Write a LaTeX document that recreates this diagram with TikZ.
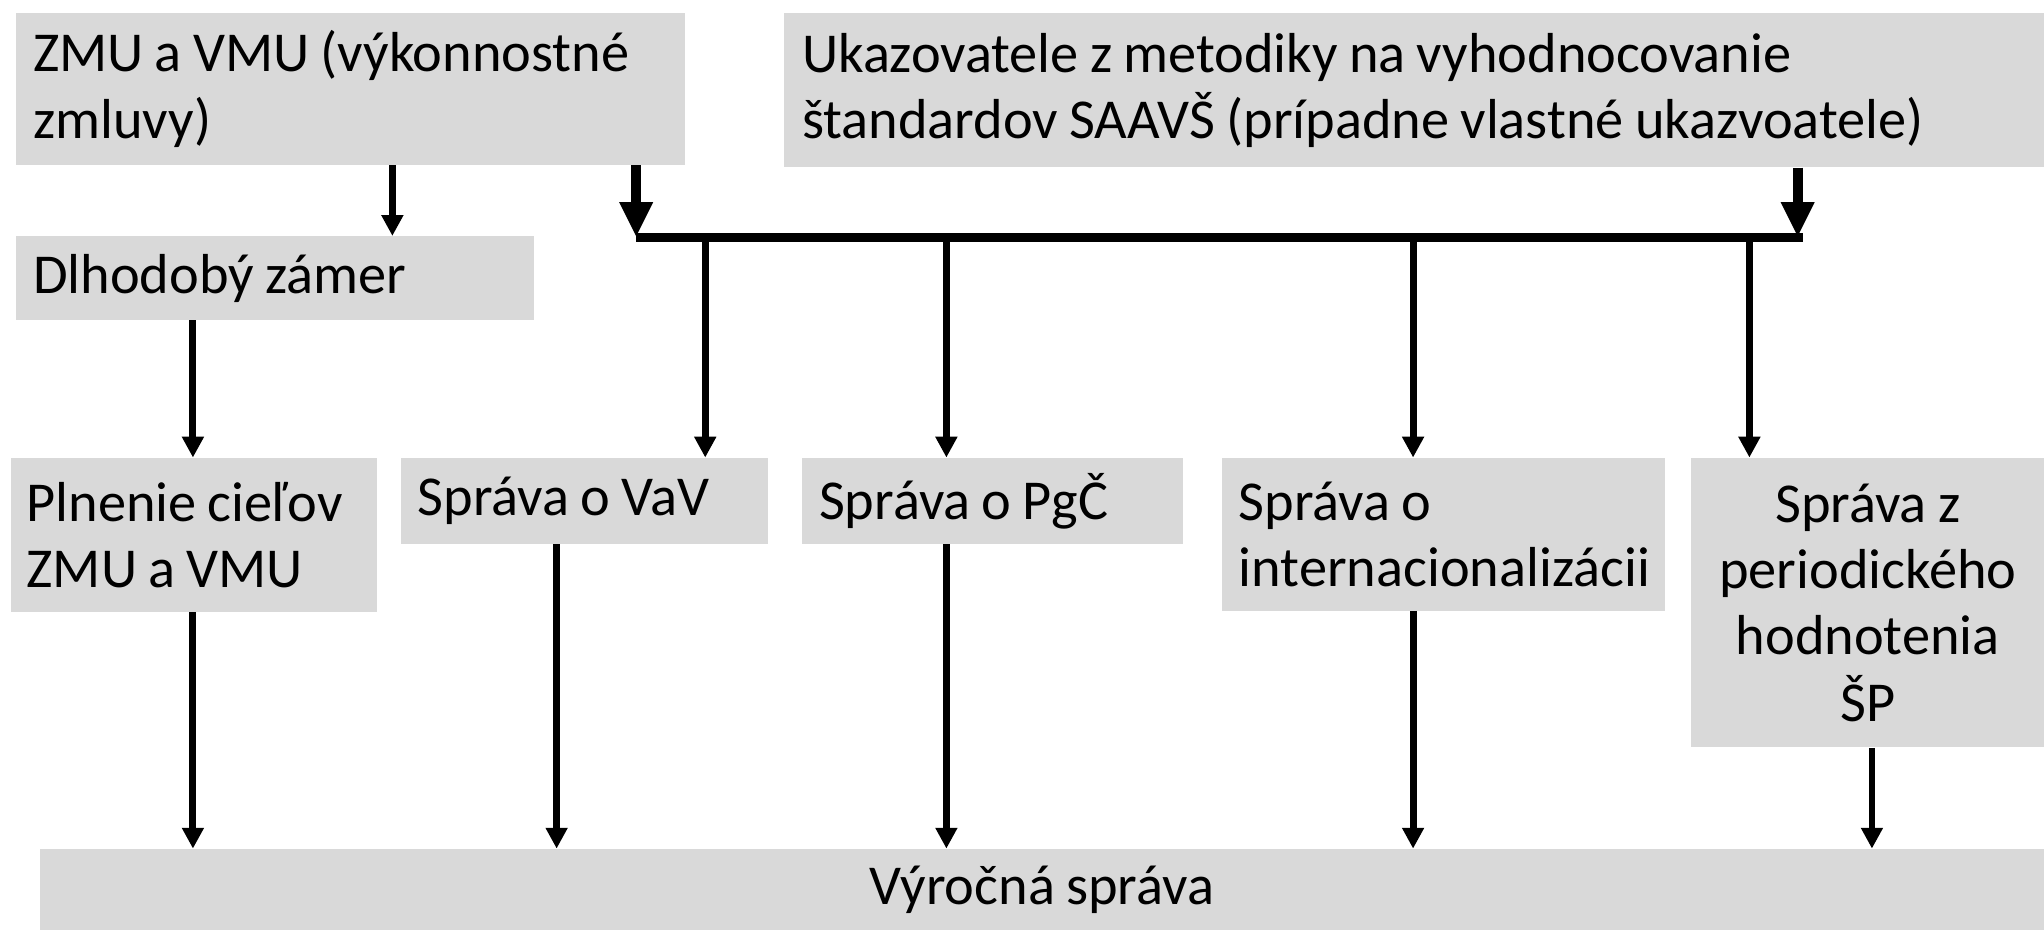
\documentclass[tikz,border=0pt]{standalone}
\usepackage{fontspec}
\setmainfont{Carlito}
\usetikzlibrary{arrows.meta, positioning}
\definecolor{boxgray}{RGB}{217, 217, 217}
\newcommand{\boxfont}{\fontsize{24.6}{29}\selectfont}

\begin{document}
\begin{tikzpicture}[
  x=0.02cm, y=-0.02cm,
  gbox/.style={fill=boxgray, anchor=north west, inner xsep=0.26cm, inner ysep=0pt, align=left, font=\boxfont,
    execute at begin node={\spaceskip=4.9pt\relax}},
  thinarr/.style={-{Triangle[width=0.32cm, length=0.32cm]}, line width=3pt},
  thickarr/.style={-{Triangle[width=0.48cm, length=0.54cm]}, line width=4.4pt},
  busline/.style={line width=4pt}
]
  \useasboundingbox (0,0) rectangle (1568,713);

  % Top row
  \node[gbox, text width=9.74cm, minimum height=2.32cm] (zmu) at (12,10) {ZMU a VMU (výkonnostné\\zmluvy)};
  \node[gbox, inner xsep=0.28cm, text width=18.78cm, minimum height=2.36cm] (ukaz) at (601,10) {Ukazovatele z metodiky na vyhodnocovanie\\štandardov SAAVŠ (prípadne vlastné ukazvoatele)};
  \node[gbox, text width=7.42cm, minimum height=1.28cm] (dlh) at (12,181) {Dlhodobý zámer};

  % Middle row
  \node[gbox, inner xsep=0.24cm, text width=5.14cm, minimum height=2.36cm] (plnenie) at (8,351) {Plnenie cieľov\\ZMU a VMU};
  \node[gbox, text width=5.12cm, minimum height=1.32cm] (vav) at (307,351) {Správa o VaV};
  \node[gbox, text width=5.32cm, minimum height=1.32cm] (pgc) at (615,351) {Správa o PgČ};
  \node[gbox, text width=6.28cm, minimum height=2.34cm] (intern) at (937,351) {Správa o\\internacionalizácii};
  \node[gbox, align=center, text width=4.90cm, minimum height=4.44cm] (period) at (1297,351) {Správa z\\periodického\\hodnotenia\\ŠP};

  % Bottom row
  \node[gbox, align=center, text width=30.24cm, minimum height=1.24cm] (vyrocna) at (30,651) {Výročná správa};

  % Bus
  \coordinate (busL) at (488,182);
  \coordinate (busR) at (1383,182);
  \coordinate (busT) at (1379,182);
  \draw[busline] (busL) -- (busR);
  \draw[thickarr] (busL |- zmu.south) -- (busL);
  \draw[thickarr] (busT |- ukaz.south) -- (busT);

  \draw[thinarr] (zmu.south -| 301,0) -- (dlh.north -| 301,0);
  \draw[thinarr] (dlh.south -| 148,0) -- (plnenie.north -| 148,0);

  \foreach \x/\n in {541/vav, 726/pgc, 1084/intern, 1342/period}
    \draw[thinarr] (busL -| \x,0) -- (\n.north -| \x,0);

  \foreach \x/\n in {148/plnenie, 427/vav, 726/pgc, 1084/intern, 1436/period}
    \draw[thinarr] (\n.south -| \x,0) -- (vyrocna.north -| \x,0);
\end{tikzpicture}
\end{document}
